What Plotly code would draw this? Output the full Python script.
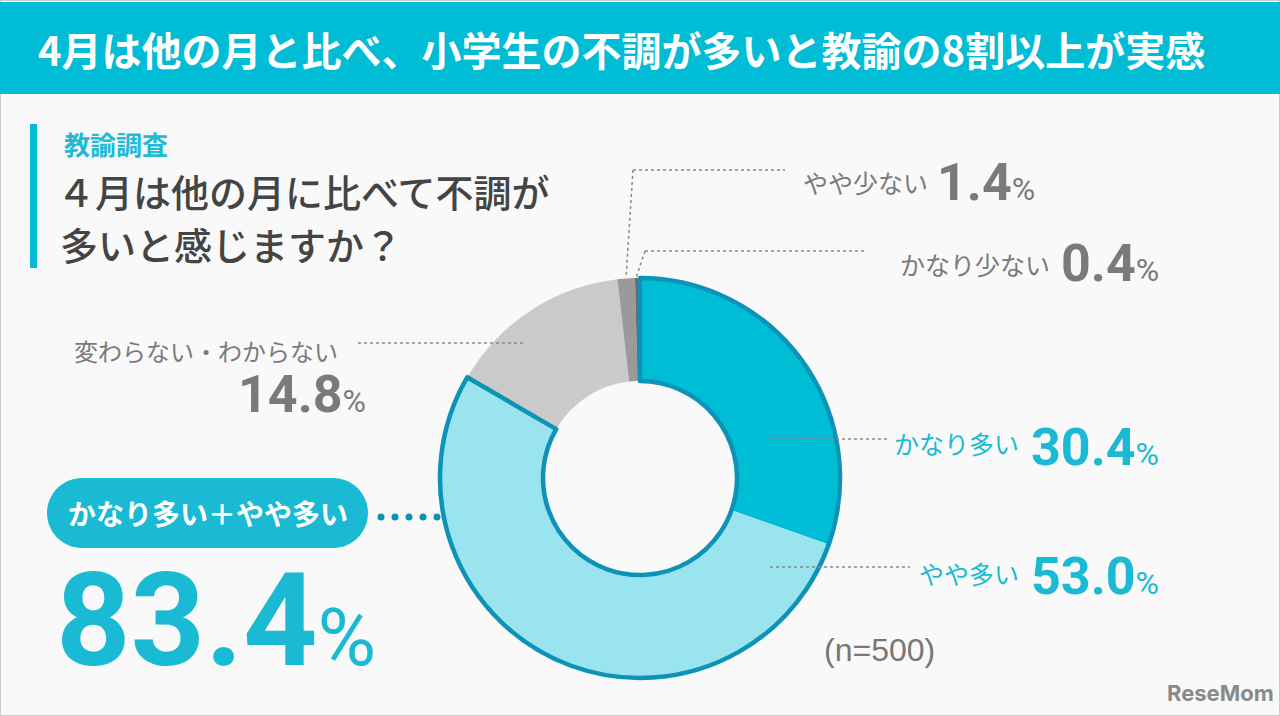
import plotly.graph_objects as go

# ---- data ----
categories = ["かなり多い", "やや多い", "変わらない・わからない", "やや少ない", "かなり少ない"]
values = [30.4, 53.0, 14.8, 1.4, 0.4]
slice_colors = ["#00BDD6", "#9AE4F0", "#CACACA", "#9A9A9A", "#6A6A6A"]
group_label = "かなり多い＋やや多い"
group_value = 83.4
n_label = "(n=500)"
title_text = "4月は他の月と比べ、小学生の不調が多いと教諭の8割以上が実感"
survey_label = "教諭調査"
question_lines = ["４月は他の月に比べて不調が", "多いと感じますか？"]

W, H = 1280, 716
TEAL = "#1AB9D4"
BORDER = "#0C93B6"
GRAY = "#7A7A7A"
JP = "Noto Sans CJK JP"
NUM = "Roboto"


def px(x):
    return x / W


def py(y):
    return 1 - y / H


fig = go.Figure()

# donut
cx, cy, r = 640, 478, 200
dom_x = [px(cx - r), px(cx + r)]
dom_y = [py(cy + r), py(cy - r)]
fig.add_trace(go.Pie(
    labels=categories, values=values, sort=False, direction="clockwise",
    rotation=0, hole=0.485, textinfo="none", showlegend=False,
    marker=dict(colors=slice_colors, line=dict(width=0)),
    domain=dict(x=dom_x, y=dom_y),
))
# outline of the combined "多い" group
grp = values[0] + values[1]
fig.add_trace(go.Pie(
    labels=["多い計", "その他"], values=[grp, sum(values) - grp], sort=False,
    direction="clockwise", rotation=0, hole=0.485, textinfo="none",
    showlegend=False, hoverinfo="skip",
    marker=dict(colors=["rgba(0,0,0,0)", "rgba(0,0,0,0)"],
                line=dict(width=[4.5, 0], color=[BORDER, "rgba(0,0,0,0)"])),
    domain=dict(x=dom_x, y=dom_y),
))

shapes = []
# frame
shapes.append(dict(type="rect", xref="paper", yref="paper", x0=0, x1=1, y0=0, y1=1,
                   line=dict(color="#BDBDBD", width=1.5), fillcolor="rgba(0,0,0,0)", layer="below"))
# header band
shapes.append(dict(type="rect", xref="paper", yref="paper", x0=0, x1=1, y0=py(94), y1=py(2),
                   line=dict(width=0), fillcolor="#00BCD5", layer="below"))
# left accent bar
shapes.append(dict(type="rect", xref="paper", yref="paper", x0=px(30), x1=px(37), y0=py(268), y1=py(124),
                   line=dict(width=0), fillcolor="#00BCD5", layer="below"))


# pill (rounded rectangle via cubic curves)
def P(x, y):
    return f"{px(x):.5f},{py(y):.5f}"


pill_x0, pill_x1, pill_y0, pill_y1 = 47, 368, 478, 548
rad = (pill_y1 - pill_y0) / 2
pcy = (pill_y0 + pill_y1) / 2
k = 0.5523 * rad
path = (f"M {P(pill_x0 + rad, pill_y0)} L {P(pill_x1 - rad, pill_y0)} "
        f"C {P(pill_x1 - rad + k, pill_y0)} {P(pill_x1, pcy - k)} {P(pill_x1, pcy)} "
        f"C {P(pill_x1, pcy + k)} {P(pill_x1 - rad + k, pill_y1)} {P(pill_x1 - rad, pill_y1)} "
        f"L {P(pill_x0 + rad, pill_y1)} "
        f"C {P(pill_x0 + rad - k, pill_y1)} {P(pill_x0, pcy + k)} {P(pill_x0, pcy)} "
        f"C {P(pill_x0, pcy - k)} {P(pill_x0 + rad - k, pill_y0)} {P(pill_x0 + rad, pill_y0)} Z")
shapes.append(dict(type="path", xref="paper", yref="paper", path=path,
                   fillcolor=TEAL, line=dict(width=0)))
# big dots from pill to donut
for i in range(5):
    dx = 381 + i * 14
    shapes.append(dict(type="circle", xref="paper", yref="paper",
                       x0=px(dx - 3.5), x1=px(dx + 3.5), y0=py(517 + 3.5), y1=py(517 - 3.5),
                       fillcolor=BORDER, line=dict(width=0)))


# dotted leader lines
def dline(x0, y0, x1, y1):
    shapes.append(dict(type="line", xref="paper", yref="paper", x0=px(x0), y0=py(y0),
                       x1=px(x1), y1=py(y1), line=dict(color="#888888", width=1.5, dash="dot")))


dline(633, 170, 785, 170)
dline(633, 170, 626, 278)
dline(645, 251, 865, 251)
dline(645, 251, 636, 278)
dline(770, 439, 887, 439)
dline(770, 567, 910, 567)
dline(358, 343, 523, 343)

ann = []


def text(x, y, s, size, color, xanchor="left", family=JP, weight="normal"):
    ann.append(dict(x=px(x), y=py(y), xref="paper", yref="paper", text=s, showarrow=False,
                    xanchor=xanchor, yanchor="middle", align=xanchor if xanchor != "center" else "center",
                    font=dict(size=size, color=color, family=family, weight=weight)))


def pct(v, psize):
    return f"<b>{v:.1f}</b><span style='font-size:{psize}px'>%</span>"


text(36, 49, title_text, 40, "white", weight="bold")
text(62, 143, survey_label, 26, "#22BAD5", weight="bold")
text(55, 190, question_lines[0], 38, "#444444", weight=500)
text(58, 244, question_lines[1], 38, "#444444", weight=500)

# right labels
text(930, 182, categories[3], 25, GRAY, xanchor="right")
text(935, 182, pct(values[3], 32), 52, GRAY, family=NUM)
text(1052, 264, categories[4], 25, GRAY, xanchor="right")
text(1059, 264, pct(values[4], 32), 52, GRAY, family=NUM)
text(1021, 443, categories[0], 25, TEAL, xanchor="right")
text(1029, 447, pct(values[0], 32), 52, TEAL, family=NUM)
text(1021, 573, categories[1], 25, TEAL, xanchor="right")
text(1029, 576, pct(values[1], 32), 52, TEAL, family=NUM)
# left label
text(72, 350, categories[2], 24, GRAY)
text(236, 394, pct(values[2], 32), 52, GRAY, family=NUM)

# group
text((pill_x0 + pill_x1) / 2, 513, group_label, 28, "white", xanchor="center", weight="bold")
text(54, 620, pct(group_value, 80), 130, TEAL, family=NUM)

text(822, 650, n_label, 32, "#777777", family="Liberation Sans")
text(1165, 693, "<b>ReseMom</b>", 22, "#8A8A8A", family="Inter")

fig.update_layout(
    width=W, height=H, margin=dict(l=0, r=0, t=0, b=0),
    paper_bgcolor="#F9F9F9", plot_bgcolor="#F9F9F9",
    shapes=shapes, annotations=ann, showlegend=False,
)
fig.write_html("out.html", config={"displayModeBar": False},
               post_script="document.body.style.margin='0';document.body.style.overflow='hidden';")
